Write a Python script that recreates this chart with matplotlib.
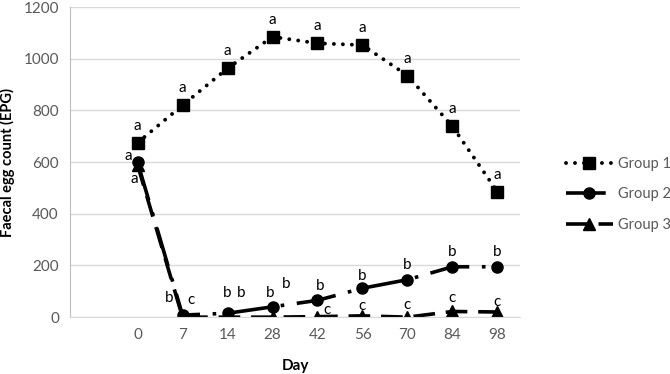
import numpy as np
import matplotlib.pyplot as plt

plt.rcParams['font.family'] = ['Lato', 'DejaVu Sans']

days = ['0', '7', '14', '28', '42', '56', '70', '84', '98']
group1 = [675, 820, 963, 1085, 1060, 1053, 935, 738, 485]
group2 = [600, 8, 15, 40, 65, 112, 145, 195, 195]
group3 = [590, 0, 0, 0, 2, 5, 0, 22, 20]
letters1 = ['a'] * 9
letters2 = ['a', 'b', 'b', 'b', 'b', 'b', 'b', 'b', 'b']
letters3 = ['a', 'c', 'b', 'b', 'c', 'c', 'c', 'c', 'c']

# label offsets in pixels (dx, dy up)
off1 = [(0, 17)] * 9
off2 = [(-9, 6), (-13, 17), (0, 20), (-2, 14), (3, 14), (0, 12), (0, 15), (0, 15), (0, 15)]
off3 = [(-3, -14), (8, 17), (14, 24), (14, 33), (10, 7), (0, 10), (0, 12), (0, 13), (0, 10)]

x = np.arange(1, len(days) + 1)

fig = plt.figure(figsize=(6.7, 3.74), dpi=100)
ax = fig.add_axes([0.1045, 0.152, 0.6716, 0.829])

ax.plot(x, group1, color='black', lw=2.8, linestyle=(0, (0.01, 2.3)),
        dash_capstyle='round', marker='s', ms=9, label='Group 1')
ax.plot(x, group2, color='black', lw=2.6, linestyle=(0, (11, 3.5, 1, 3.5)),
        marker='o', ms=8, label='Group 2')
ax.plot(x, group3, color='black', lw=2.6, linestyle=(0, (6, 3)),
        marker='^', ms=8, label='Group 3')

for vals, letters, offs in [(group1, letters1, off1), (group2, letters2, off2),
                            (group3, letters3, off3)]:
    for xi, v, t, (dx, dy) in zip(x, vals, letters, offs):
        ax.annotate(t, (xi, v), xytext=(dx * 0.72, dy * 0.72), textcoords='offset points',
                    ha='center', va='center', fontsize=11, color='black')

ax.set_xlim(-0.5, 9.5)
ax.set_ylim(0, 1200)
ax.set_yticks(range(0, 1201, 200))
ax.set_xticks(x)
ax.set_xticklabels(days)
ax.grid(axis='y', color='#d9d9d9', lw=1)
ax.set_axisbelow(True)
ax.tick_params(length=0, labelsize=11, labelcolor='#595959', pad=8)
for s in ['top', 'right']:
    ax.spines[s].set_visible(False)
ax.spines['left'].set_color('#bfbfbf')
ax.spines['bottom'].set_color('#d9d9d9')
ax.set_xlabel('Day', fontsize=11, fontweight='bold', labelpad=12)
ax.set_ylabel('Faecal egg count (EPG)', fontsize=10.5, fontweight='bold', labelpad=6)

fig.legend(loc='center left', bbox_to_anchor=(0.845, 0.48), frameon=False,
           handlelength=3.2, handletextpad=0.35, fontsize=10.5,
           labelcolor='#595959', labelspacing=1.15, borderaxespad=0, borderpad=0)

fig.savefig('out.png', dpi=100)
